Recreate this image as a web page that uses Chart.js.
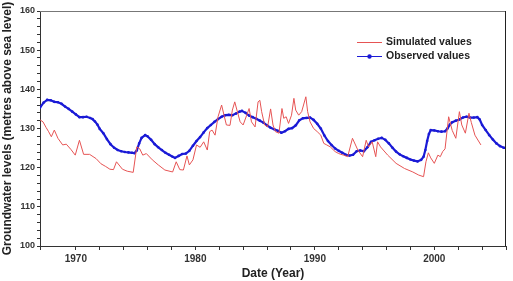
<!DOCTYPE html>
<html>
<head>
<meta charset="utf-8">
<title>Groundwater levels</title>
<script src="https://cdn.jsdelivr.net/npm/chart.js@4/dist/chart.umd.min.js"></script>
<style>
  html, body { margin: 0; padding: 0; background: #fff; }
  #levelsChart { display: block; }
</style>
</head>
<body>
<canvas id="levelsChart" width="513" height="281"></canvas>
<script>
// Simulated values (red line)
var simYears = [
  1967.0, 1967.25, 1967.5, 1967.7, 1967.95, 1968.2, 1968.5, 1968.9, 1969.2, 1969.6,
  1969.95, 1970.3, 1970.65, 1971.15, 1971.7, 1972.1, 1972.5, 1972.85, 1973.15, 1973.4,
  1973.9, 1974.3, 1974.8, 1975.1, 1975.35, 1975.6, 1975.9, 1976.4, 1976.9, 1977.45,
  1978.1, 1978.4, 1978.7, 1979.0, 1979.3, 1979.5, 1979.8, 1980.1, 1980.4, 1980.7,
  1981.0, 1981.2, 1981.4, 1981.65, 1981.9, 1982.2, 1982.4, 1982.6, 1982.9, 1983.1,
  1983.3, 1983.5, 1983.75, 1984.0, 1984.3, 1984.5, 1984.7, 1985.0, 1985.25, 1985.4,
  1985.55, 1985.8, 1986.05, 1986.3, 1986.5, 1986.7, 1987.0, 1987.25, 1987.4, 1987.6,
  1987.8, 1988.05, 1988.25, 1988.4, 1988.65, 1988.9, 1989.25, 1989.4, 1989.6, 1989.9,
  1990.2, 1990.5, 1990.75, 1991.0, 1991.3, 1991.7, 1992.0, 1992.4, 1992.75, 1993.15,
  1993.6, 1994.0, 1994.3, 1994.5, 1994.8, 1995.1, 1995.25, 1995.5, 1996.1, 1996.8,
  1997.5, 1998.2, 1998.7, 1999.1, 1999.3, 1999.5, 1999.7, 2000.0, 2000.3, 2000.5,
  2000.7, 2000.9, 2001.2, 2001.5, 2001.8, 2002.1, 2002.3, 2002.6, 2002.9, 2003.1,
  2003.4, 2003.9
];
var simValues = [
  132.2, 131.7, 130.3, 129.3, 127.9, 129.6, 127.5, 125.8, 126.0, 124.6,
  123.2, 127.0, 123.4, 123.4, 122.3, 121.0, 120.3, 119.6, 119.5, 121.5,
  119.6, 119.1, 118.8, 125.3, 124.8, 123.2, 123.6, 122.0, 120.7, 119.4,
  118.9, 121.5, 119.5, 119.4, 123.0, 120.7, 122.0, 125.8, 125.2, 126.6,
  124.5, 129.2, 129.6, 128.3, 133.0, 136.0, 133.4, 130.9, 130.8, 134.7,
  136.8, 134.5, 131.7, 130.9, 133.4, 135.1, 131.7, 130.4, 136.8, 137.2,
  134.3, 130.9, 130.4, 135.0, 130.9, 129.2, 128.8, 135.1, 132.6, 133.0,
  131.3, 133.4, 137.7, 134.7, 133.4, 134.3, 138.1, 134.3, 131.7, 130.0,
  129.2, 128.3, 126.2, 125.8, 125.3, 124.1, 123.6, 123.2, 122.8, 127.5,
  124.5, 122.8, 127.0, 125.3, 126.6, 122.8, 126.6, 125.3, 123.2, 121.1,
  119.8, 118.9, 118.1, 117.7, 121.5, 123.8, 122.5, 121.1, 123.2, 122.8,
  124.1, 124.8, 133.0, 129.5, 127.5, 134.3, 130.9, 128.8, 133.9, 131.5,
  128.3, 125.8
];

// Observed values (blue line with dots)
var obsYears = [
  1967.0, 1967.3, 1967.6, 1967.9, 1968.2, 1968.5, 1968.8, 1969.1, 1969.4, 1969.7,
  1970.0, 1970.3, 1970.6, 1970.9, 1971.2, 1971.4, 1971.6, 1971.8, 1972.0, 1972.3,
  1972.6, 1972.9, 1973.2, 1973.5, 1973.8, 1974.1, 1974.4, 1974.7, 1974.9, 1975.1,
  1975.3, 1975.5, 1975.8, 1976.0, 1976.3, 1976.6, 1976.9, 1977.2, 1977.5, 1977.8,
  1978.1, 1978.3, 1978.6, 1978.9, 1979.2, 1979.5, 1979.8, 1980.1, 1980.4, 1980.7,
  1981.0, 1981.3, 1981.6, 1981.9, 1982.2, 1982.5, 1982.8, 1983.1, 1983.4, 1983.7,
  1983.9, 1984.2, 1984.5, 1984.8, 1985.1, 1985.4, 1985.7, 1986.0, 1986.3, 1986.6,
  1986.9, 1987.2, 1987.5, 1987.8, 1988.1, 1988.4, 1988.7, 1989.0, 1989.3, 1989.6,
  1989.9, 1990.2, 1990.5, 1990.8, 1991.1, 1991.4, 1991.7, 1992.0, 1992.3, 1992.6,
  1992.9, 1993.2, 1993.5, 1993.8, 1994.1, 1994.4, 1994.7, 1995.0, 1995.3, 1995.6,
  1995.9, 1996.2, 1996.5, 1996.8, 1997.1, 1997.4, 1997.7, 1998.0, 1998.3, 1998.6,
  1998.9, 1999.1, 1999.25, 1999.4, 1999.55, 1999.7, 2000.0, 2000.3, 2000.6, 2000.9,
  2001.1, 2001.3, 2001.5, 2001.8, 2002.1, 2002.4, 2002.7, 2003.0, 2003.3, 2003.6,
  2003.8, 2004.0, 2004.3, 2004.6, 2004.9, 2005.2, 2005.5, 2005.8, 2006.0
];
var obsValues = [
  135.3, 136.6, 137.3, 137.2, 136.8, 136.7, 136.3, 135.6, 135.0, 134.3,
  133.6, 132.9, 132.9, 133.0, 132.7, 132.4, 131.8, 131.0, 129.9, 128.8,
  127.3, 126.0, 125.1, 124.5, 124.2, 124.0, 123.9, 123.8, 123.7, 124.4,
  126.2, 127.6, 128.3, 128.0, 127.1, 126.0, 125.2, 124.5, 123.8, 123.3,
  122.8, 122.5, 123.0, 123.5, 123.6, 124.3, 125.6, 126.8, 127.8, 129.0,
  130.1, 130.9, 131.7, 132.4, 133.0, 133.4, 133.5, 133.4, 133.8, 134.3,
  134.5, 134.0, 133.3, 132.9, 132.5, 132.0, 131.5, 130.8, 130.2, 129.8,
  129.4, 128.9, 129.3, 129.9, 130.1, 130.8, 132.1, 132.6, 132.7, 132.8,
  132.2, 131.2, 130.0, 128.2, 126.8, 125.8, 124.9, 124.3, 123.8, 123.3,
  123.1, 123.3, 124.2, 124.4, 124.2, 125.2, 126.6, 127.0, 127.4, 127.6,
  127.1, 126.2, 125.1, 124.1, 123.4, 122.9, 122.5, 122.1, 121.8, 121.6,
  122.0, 122.8, 124.5, 126.8, 128.6, 129.6, 129.5, 129.3, 129.2, 129.3,
  130.0, 131.0, 131.6, 132.0, 132.3, 132.8, 133.0, 132.8, 132.8, 132.9,
  132.3, 130.9, 129.6, 128.3, 127.2, 126.2, 125.5, 125.1, 125.0
];

// Axis settings
var yearMin = 1967, yearMax = 2006, yearStep = 2, yearLabelEvery = 10;
var levelMin = 100, levelMax = 160, levelStep = 2, levelLabelEvery = 10;

var seriesNames = ["Simulated values", "Observed values"];
var yTitle = "Groundwater levels (metres above sea level)";
var xTitle = "Date (Year)";

document.addEventListener("DOMContentLoaded", function() {
  var canvas = document.getElementById("levelsChart");
  var ctx = canvas.getContext("2d");

  Chart.defaults.font.family = "Arial, 'Liberation Sans', sans-serif";

  function toPoints(xs, ys) {
    return xs.map(function(x, i) { return { x: x, y: ys[i] }; });
  }

  // box round the plot area + legend inside it (top right)
  var framePlugin = {
    id: "frame",
    afterDraw: function(chart) {
      var a = chart.chartArea;
      var c = chart.ctx;
      c.save();
      c.lineWidth = 1;
      c.strokeStyle = "#777";
      c.beginPath();
      c.moveTo(a.left, a.top + 0.5);
      c.lineTo(a.right, a.top + 0.5);
      c.stroke();
      c.strokeStyle = "#222";
      c.beginPath();
      c.moveTo(a.right - 0.5, a.top);
      c.lineTo(a.right - 0.5, a.bottom);
      c.stroke();

      var lx = a.right - 149;
      var ly = a.top + 31.5;
      c.font = "bold 10.5px Arial, 'Liberation Sans', sans-serif";
      c.textBaseline = "middle";
      c.fillStyle = "#222";
      chart.data.datasets.forEach(function(ds, i) {
        var yy = ly + i * 14;
        c.strokeStyle = ds.borderColor;
        c.lineWidth = 1;
        c.beginPath();
        c.moveTo(lx, yy);
        c.lineTo(lx + 25, yy);
        c.stroke();
        if (i === 1) {
          c.fillStyle = ds.borderColor;
          c.beginPath();
          c.arc(lx + 12.5, yy, 2.2, 0, Math.PI * 2);
          c.fill();
          c.fillStyle = "#222";
        }
        c.fillText(ds.label, lx + 29, yy);
      });
      c.restore();
    }
  };

  var chart = new Chart(ctx, {
    type: "line",
    data: {
      datasets: [{
        label: seriesNames[0],
        data: toPoints(simYears, simValues),
        borderColor: "#e65454",
        borderWidth: 1,
        pointRadius: 0,
        tension: 0
      }, {
        label: seriesNames[1],
        data: toPoints(obsYears, obsValues),
        borderColor: "#1a1ad6",
        backgroundColor: "#1a1ad6",
        borderWidth: 2.2,
        pointRadius: 1.3,
        pointBorderWidth: 0,
        tension: 0
      }]
    },
    options: {
      responsive: false,
      animation: false,
      layout: { padding: { top: 11, right: 7, left: 0, bottom: 0 } },
      plugins: {
        legend: { display: false },
        tooltip: { enabled: false }
      },
      scales: {
        x: {
          type: "linear",
          min: yearMin,
          max: yearMax,
          afterFit: function(scale) { scale.height = 35; },
          border: { color: "#333", width: 1 },
          grid: { drawOnChartArea: false, tickLength: 4, color: "#333" },
          ticks: {
            stepSize: yearStep,
            autoSkip: false,
            maxRotation: 0,
            padding: 3,
            color: "#333",
            font: { size: 10, weight: "bold" },
            callback: function(v) { return v % yearLabelEvery === 0 ? String(v) : ""; }
          },
          title: {
            display: true,
            text: xTitle,
            color: "#222",
            font: { size: 12, weight: "bold" },
            padding: { top: 0, bottom: 0 }
          }
        },
        y: {
          min: levelMin,
          max: levelMax,
          afterFit: function(scale) { scale.width = 40; },
          border: { color: "#333", width: 1 },
          grid: { drawOnChartArea: false, tickLength: 3, color: "#333" },
          ticks: {
            stepSize: levelStep,
            autoSkip: false,
            padding: 2,
            color: "#333",
            font: { size: 9, weight: "bold" },
            callback: function(v) { return v % levelLabelEvery === 0 ? String(v) : ""; }
          },
          title: {
            display: true,
            text: yTitle,
            color: "#222",
            font: { size: 12, weight: "bold" },
            padding: { top: 0, bottom: 0 }
          }
        }
      }
    },
    plugins: [framePlugin]
  });
});
</script>
</body>
</html>
